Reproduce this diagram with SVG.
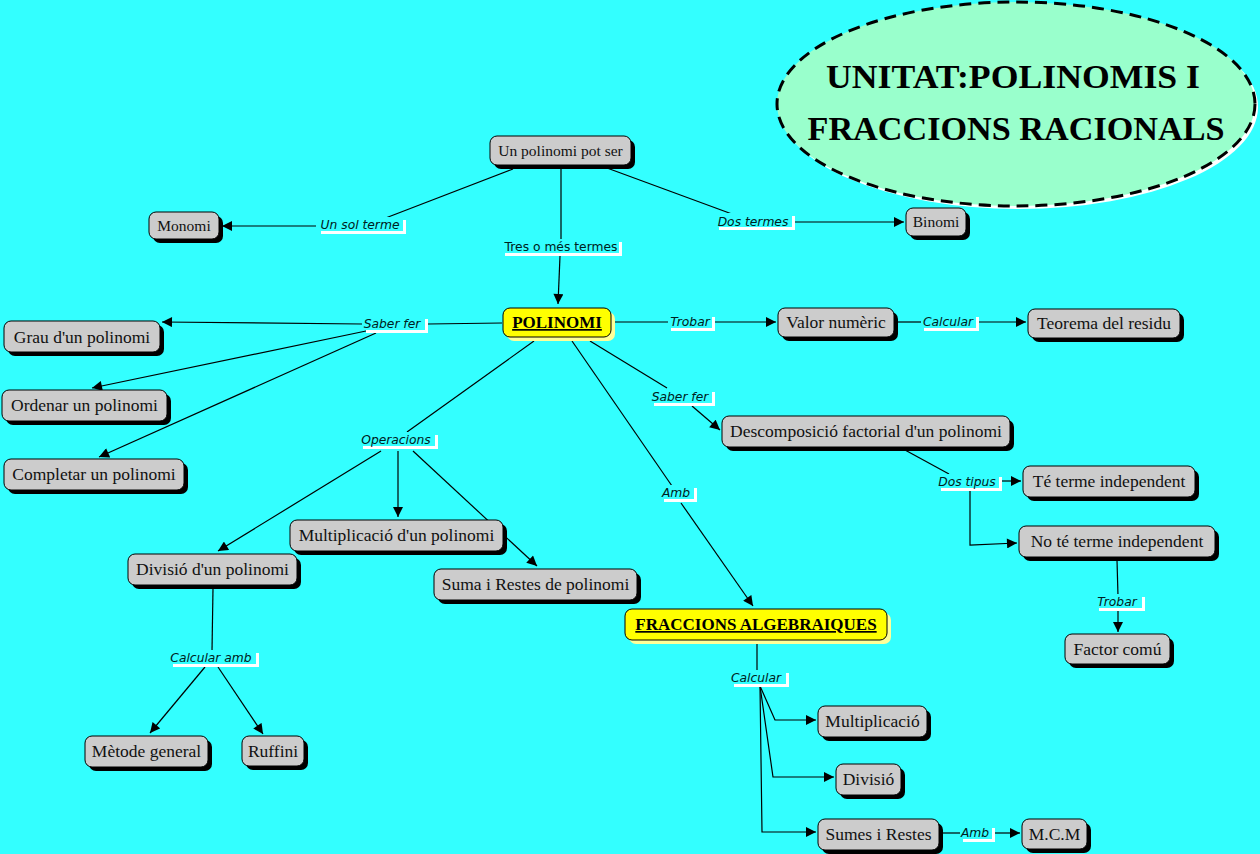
<svg xmlns="http://www.w3.org/2000/svg" width="1260" height="854" viewBox="0 0 1260 854">
<defs>
<marker id="ah" viewBox="0 0 10 10" refX="10" refY="5" markerWidth="11" markerHeight="10" orient="auto" markerUnits="userSpaceOnUse"><path d="M0,0 L10,5 L0,10 z" fill="#000"/></marker>
<style>
.bg{fill:#33ffff}
.c{fill:none;stroke:#000;stroke-width:1.2}
.ca{fill:none;stroke:#000;stroke-width:1.2;marker-end:url(#ah)}
.sh{fill:#000}
.box{fill:#cccccc;stroke:#000;stroke-width:1}
.ysh{fill:#ffff99}
.ybox{fill:#ffff00;stroke:#000;stroke-width:1}
.t{font-family:"Liberation Serif","Times New Roman",serif;font-size:17.5px;fill:#111;text-anchor:middle}
.ts{font-size:15.5px}
.tb{font-family:"Liberation Serif","Times New Roman",serif;font-size:17px;font-weight:bold;text-decoration:underline;fill:#000;text-anchor:middle}
.lw{fill:#ffffff}
.lb{fill:#33ffff}
.l{font-family:"DejaVu Sans",Verdana,sans-serif;font-size:12.3px;font-style:italic;fill:#002020;text-anchor:middle}
.ln{font-style:normal}
.title{font-family:"Liberation Serif","Times New Roman",serif;font-size:34px;font-weight:bold;fill:#000;text-anchor:middle}
</style>
</defs>
<rect class="bg" x="0" y="0" width="1260" height="854"/>

<g id="title">
<ellipse cx="1019" cy="107" rx="239" ry="102" fill="#ffffff"/>
<ellipse cx="1016" cy="104" rx="239" ry="102" fill="#99ffcc" stroke="#000" stroke-width="3" stroke-dasharray="12,7"/>
<text class="title" x="1013" y="88" textLength="374" lengthAdjust="spacingAndGlyphs">UNITAT:POLINOMIS I</text>
<text class="title" x="1016" y="140" textLength="417" lengthAdjust="spacingAndGlyphs">FRACCIONS RACIONALS</text>
</g>

<g id="connectors">
<path class="c" d="M513,169 L383,219"/>
<path class="ca" d="M316,226 L222,226"/>
<path class="c" d="M561,166 L561,239"/>
<path class="ca" d="M560,256 L558,304"/>
<path class="c" d="M607,168 L732,214"/>
<path class="ca" d="M795,222 L904,222"/>
<path class="c" d="M502,323 L428,324"/>
<path class="ca" d="M362,324 L162,322"/>
<path class="ca" d="M366,331 L92,388"/>
<path class="ca" d="M376,333 L99,457"/>
<path class="c" d="M613,322 L668,322"/>
<path class="ca" d="M713,322 L776,322"/>
<path class="c" d="M896,322 L922,322"/>
<path class="ca" d="M979,322 L1026,322"/>
<path class="c" d="M590,341 L667,388"/>
<path class="ca" d="M692,406 L720,430"/>
<path class="c" d="M572,341 L672,486"/>
<path class="ca" d="M681,503 L753,606"/>
<path class="c" d="M534,341 L407,432"/>
<path class="ca" d="M381,451 L218,551"/>
<path class="ca" d="M398,451 L398,517"/>
<path class="ca" d="M413,451 L537,566"/>
<path class="c" d="M213,588 L212,651"/>
<path class="ca" d="M205,667 L150,733"/>
<path class="ca" d="M218,667 L263,734"/>
<path class="c" d="M905,450 L949,474"/>
<path class="ca" d="M999,481 L1021,481"/>
<path class="ca" d="M970,490 L970,545 L1017,543"/>
<path class="c" d="M1117,560 L1118,596"/>
<path class="ca" d="M1118,610 L1118,632"/>
<path class="c" d="M757,644 L757,671"/>
<path class="ca" d="M760,686 L775,720 L816,720"/>
<path class="ca" d="M760,686 L773,777 L834,777"/>
<path class="ca" d="M760,686 L762,832 L816,832"/>
<path class="c" d="M942,833 L961,833"/>
<path class="ca" d="M995,833 L1020,833"/>
</g>

<g id="labels">
<g id="lbl-unsol"><rect class="lw" x="321" y="220" width="85" height="14"/><rect class="lb" x="318" y="217" width="85" height="14"/><text class="l" x="360" y="229">Un sol terme</text></g>
<g id="lbl-tres"><rect class="lw" x="505" y="242" width="117" height="14"/><rect class="lb" x="502" y="239" width="117" height="14"/><text class="l ln" x="561" y="251">Tres o més termes</text></g>
<g id="lbl-dos"><rect class="lw" x="719" y="216" width="76" height="14"/><rect class="lb" x="716" y="213" width="76" height="14"/><text class="l" x="753" y="226">Dos termes</text></g>
<g id="lbl-saber1"><rect class="lw" x="366" y="319" width="62" height="14"/><rect class="lb" x="363" y="316" width="62" height="14"/><text class="l" x="392" y="328">Saber fer</text></g>
<g id="lbl-trobar1"><rect class="lw" x="671" y="317" width="44" height="14"/><rect class="lb" x="668" y="314" width="44" height="14"/><text class="l" x="690" y="326">Trobar</text></g>
<g id="lbl-calc1"><rect class="lw" x="924" y="317" width="55" height="14"/><rect class="lb" x="921" y="314" width="55" height="14"/><text class="l" x="948" y="326">Calcular</text></g>
<g id="lbl-saber2"><rect class="lw" x="654" y="392" width="61" height="14"/><rect class="lb" x="651" y="389" width="61" height="14"/><text class="l" x="680" y="401">Saber fer</text></g>
<g id="lbl-oper"><rect class="lw" x="363" y="435" width="75" height="14"/><rect class="lb" x="360" y="432" width="75" height="14"/><text class="l" x="396" y="444">Operacions</text></g>
<g id="lbl-amb1"><rect class="lw" x="664" y="488" width="33" height="14"/><rect class="lb" x="661" y="485" width="33" height="14"/><text class="l" x="676" y="497">Amb</text></g>
<g id="lbl-dostipus"><rect class="lw" x="941" y="477" width="61" height="14"/><rect class="lb" x="938" y="474" width="61" height="14"/><text class="l" x="967" y="486">Dos tipus</text></g>
<g id="lbl-trobar2"><rect class="lw" x="1099" y="597" width="46" height="14"/><rect class="lb" x="1096" y="594" width="46" height="14"/><text class="l" x="1117" y="606">Trobar</text></g>
<g id="lbl-calcamb"><rect class="lw" x="173" y="653" width="86" height="14"/><rect class="lb" x="170" y="650" width="86" height="14"/><text class="l" x="211" y="662">Calcular amb</text></g>
<g id="lbl-calc2"><rect class="lw" x="734" y="673" width="55" height="14"/><rect class="lb" x="731" y="670" width="55" height="14"/><text class="l" x="756" y="682">Calcular</text></g>
<g id="lbl-amb2"><rect class="lw" x="963" y="828" width="32" height="14"/><rect class="lb" x="960" y="825" width="32" height="14"/><text class="l" x="975" y="837">Amb</text></g>
</g>

<g id="n-unpol"><rect class="sh" x="494" y="140" width="141" height="29" rx="7"/><rect class="box" x="490" y="136" width="141" height="29" rx="7"/><text class="t ts" x="560.5" y="156">Un polinomi pot ser</text></g>
<g id="n-monomi"><rect class="sh" x="153" y="216" width="70" height="27" rx="7"/><rect class="box" x="149" y="212" width="70" height="27" rx="7"/><text class="t ts" x="184" y="231">Monomi</text></g>
<g id="n-binomi"><rect class="sh" x="910" y="212" width="60" height="28" rx="7"/><rect class="box" x="906" y="208" width="60" height="28" rx="7"/><text class="t ts" x="936" y="227">Binomi</text></g>
<g id="n-polinomi"><rect class="ysh" x="507" y="312" width="108" height="29" rx="7"/><rect class="ybox" x="503" y="308" width="108" height="29" rx="7"/><text class="tb" x="557" y="328">POLINOMI</text></g>
<g id="n-grau"><rect class="sh" x="8" y="325" width="156" height="31" rx="7"/><rect class="box" x="4" y="321" width="156" height="31" rx="7"/><text class="t" x="82" y="343">Grau d'un polinomi</text></g>
<g id="n-ordenar"><rect class="sh" x="6" y="394" width="165" height="31" rx="7"/><rect class="box" x="2" y="390" width="165" height="31" rx="7"/><text class="t" x="84.5" y="411">Ordenar un polinomi</text></g>
<g id="n-completar"><rect class="sh" x="8" y="463" width="180" height="31" rx="7"/><rect class="box" x="4" y="459" width="180" height="31" rx="7"/><text class="t" x="94" y="480">Completar un polinomi</text></g>
<g id="n-valor"><rect class="sh" x="782" y="312" width="116" height="29" rx="7"/><rect class="box" x="778" y="308" width="116" height="29" rx="7"/><text class="t" x="836" y="328">Valor numèric</text></g>
<g id="n-teorema"><rect class="sh" x="1032" y="313" width="152" height="29" rx="7"/><rect class="box" x="1028" y="309" width="152" height="29" rx="7"/><text class="t" x="1104" y="329">Teorema del residu</text></g>
<g id="n-descomp"><rect class="sh" x="726" y="420" width="288" height="31" rx="7"/><rect class="box" x="722" y="416" width="288" height="31" rx="7"/><text class="t" x="866" y="437">Descomposició factorial d'un polinomi</text></g>
<g id="n-te"><rect class="sh" x="1027" y="470" width="172" height="31" rx="7"/><rect class="box" x="1023" y="466" width="172" height="31" rx="7"/><text class="t" x="1109" y="487">Té terme independent</text></g>
<g id="n-note"><rect class="sh" x="1023" y="530" width="196" height="31" rx="7"/><rect class="box" x="1019" y="526" width="196" height="31" rx="7"/><text class="t" x="1117" y="547">No té terme independent</text></g>
<g id="n-factor"><rect class="sh" x="1069" y="638" width="105" height="30" rx="7"/><rect class="box" x="1065" y="634" width="105" height="30" rx="7"/><text class="t" x="1117.5" y="655">Factor comú</text></g>
<g id="n-multpol"><rect class="sh" x="294" y="524" width="213" height="31" rx="7"/><rect class="box" x="290" y="520" width="213" height="31" rx="7"/><text class="t" x="396.5" y="541">Multiplicació d'un polinomi</text></g>
<g id="n-divpol"><rect class="sh" x="132" y="558" width="169" height="31" rx="7"/><rect class="box" x="128" y="554" width="169" height="31" rx="7"/><text class="t" x="212.5" y="575">Divisió d'un polinomi</text></g>
<g id="n-suma"><rect class="sh" x="438" y="573" width="203" height="31" rx="7"/><rect class="box" x="434" y="569" width="203" height="31" rx="7"/><text class="t" x="535.5" y="590">Suma i Restes de polinomi</text></g>
<g id="n-fraccions"><rect class="ysh" x="629" y="613" width="262" height="31" rx="7"/><rect class="ybox" x="625" y="609" width="262" height="31" rx="7"/><text class="tb" x="756" y="630">FRACCIONS ALGEBRAIQUES</text></g>
<g id="n-metode"><rect class="sh" x="89" y="740" width="123" height="31" rx="7"/><rect class="box" x="85" y="736" width="123" height="31" rx="7"/><text class="t" x="146.5" y="757">Mètode general</text></g>
<g id="n-ruffini"><rect class="sh" x="246" y="740" width="62" height="30" rx="7"/><rect class="box" x="242" y="736" width="62" height="30" rx="7"/><text class="t" x="273" y="757">Ruffini</text></g>
<g id="n-mult"><rect class="sh" x="822" y="710" width="109" height="31" rx="7"/><rect class="box" x="818" y="706" width="109" height="31" rx="7"/><text class="t" x="872.5" y="727">Multiplicació</text></g>
<g id="n-div"><rect class="sh" x="840" y="768" width="65" height="31" rx="7"/><rect class="box" x="836" y="764" width="65" height="31" rx="7"/><text class="t" x="868.5" y="785">Divisió</text></g>
<g id="n-sumes"><rect class="sh" x="822" y="823" width="121" height="31" rx="7"/><rect class="box" x="818" y="819" width="121" height="31" rx="7"/><text class="t" x="878.5" y="840">Sumes i Restes</text></g>
<g id="n-mcm"><rect class="sh" x="1026" y="823" width="65" height="30" rx="7"/><rect class="box" x="1022" y="819" width="65" height="30" rx="7"/><text class="t" x="1054.5" y="840">M.C.M</text></g>
</svg>
